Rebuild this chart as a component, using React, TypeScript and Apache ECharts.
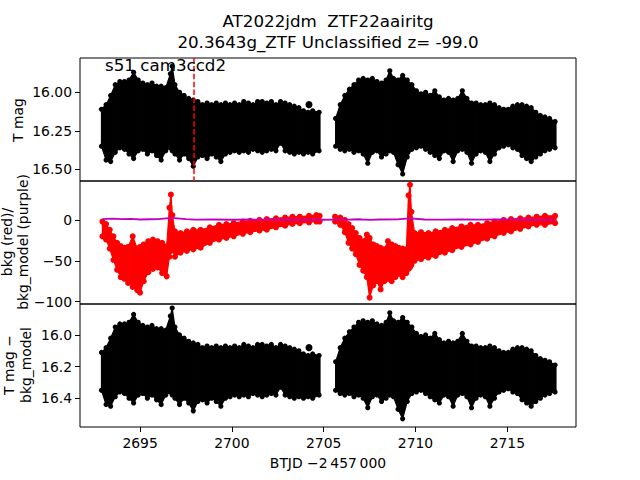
import React, { useEffect, useRef } from 'react';
import * as echarts from 'echarts';

// ---- Panel 1 / Panel 3: T mag light-curve envelope ----
const magT = [
  2692.9, 2693.15, 2693.4, 2693.65, 2693.9, 2694.15, 2694.4, 2694.65, 2694.9, 2695.15,
  2695.4, 2695.65, 2695.9, 2696.15, 2696.4, 2696.65, 2696.75, 2696.9, 2697.15, 2697.4,
  2697.65, 2697.9, 2698.15, 2698.4, 2698.65, 2698.9, 2699.15, 2699.4, 2699.65, 2699.9,
  2700.15, 2700.4, 2700.65, 2700.9, 2701.15, 2701.4, 2701.65, 2701.9, 2702.15, 2702.4,
  2702.65, 2702.9, 2703.15, 2703.4, 2703.65, 2703.9, 2704.15, 2704.4, 2704.75,
  2705.65, 2705.9, 2706.15, 2706.4, 2706.65, 2706.9, 2707.15, 2707.4, 2707.65, 2707.9,
  2708.15, 2708.4, 2708.6, 2708.8, 2709.05, 2709.3, 2709.55, 2709.8, 2710.05, 2710.3,
  2710.55, 2710.8, 2711.05, 2711.3, 2711.55, 2711.8, 2712.05, 2712.3, 2712.55, 2712.8,
  2713.05, 2713.3, 2713.55, 2713.8, 2714.05, 2714.3, 2714.55, 2714.8, 2715.05, 2715.3,
  2715.55, 2715.8, 2716.05, 2716.3, 2716.55, 2716.8, 2717.05, 2717.3, 2717.6,
];
const magHi = [
  16.11, 16.08, 16.02, 15.95, 15.93, 15.93, 15.92, 15.87, 15.92, 15.94,
  15.95, 15.94, 15.96, 15.96, 15.97, 15.88, 15.83, 15.95, 16.0, 16.02,
  16.04, 16.05, 16.06, 16.08, 16.07, 16.08, 16.07, 16.08, 16.07, 16.08,
  16.07, 16.08, 16.06, 16.07, 16.08, 16.06, 16.06, 16.07, 16.06, 16.08,
  16.06, 16.07, 16.08, 16.09, 16.1, 16.12, 16.13, 16.12, 16.13,
  16.17, 16.08, 16.02, 15.98, 15.95, 15.92, 15.91, 15.92, 15.91, 15.93,
  15.94, 15.92, 15.86, 15.91, 15.92, 15.89, 15.92, 15.95, 15.99, 16.01,
  16.0, 16.02, 15.99, 16.03, 16.05, 16.04, 16.05, 16.04, 15.99, 16.04,
  16.07, 16.07, 16.08, 16.08, 16.07, 16.08, 16.1, 16.11, 16.11, 16.09,
  16.08, 16.08, 16.09, 16.1, 16.13, 16.15, 16.16, 16.17, 16.19,
];
const magLo = [
  16.35, 16.44, 16.45, 16.39, 16.36, 16.37, 16.4, 16.43, 16.38, 16.37,
  16.4, 16.38, 16.41, 16.44, 16.38, 16.36, 16.38, 16.4, 16.44, 16.4,
  16.43, 16.48, 16.42, 16.41, 16.43, 16.4, 16.42, 16.45, 16.4, 16.39,
  16.38, 16.39, 16.38, 16.39, 16.37, 16.38, 16.39, 16.38, 16.37, 16.38,
  16.33, 16.38, 16.39, 16.4, 16.39, 16.4, 16.39, 16.4, 16.38,
  16.35, 16.37, 16.38, 16.37, 16.39, 16.38, 16.4, 16.46, 16.39, 16.38,
  16.42, 16.4, 16.38, 16.39, 16.47, 16.53, 16.42, 16.37, 16.36, 16.35,
  16.37, 16.39, 16.41, 16.43, 16.38, 16.39, 16.45, 16.38, 16.37, 16.39,
  16.46, 16.4, 16.38, 16.39, 16.45, 16.4, 16.36, 16.35, 16.34, 16.36,
  16.37, 16.41, 16.43, 16.45, 16.42, 16.4, 16.38, 16.37, 16.36,
];
const outlierT = [2704.2];
const outlierMag = [16.08];

// ---- Panel 2: background (red) envelope and bkg_model (purple) ----
const bkgT = [
  2692.95, 2693.15, 2693.35, 2693.55, 2693.75, 2693.95, 2694.15, 2694.35, 2694.6, 2694.85,
  2695.0, 2695.2, 2695.45, 2695.7, 2695.95, 2696.2, 2696.45, 2696.6, 2696.68, 2696.76,
  2696.9, 2697.2, 2697.55, 2697.9, 2698.3, 2698.8, 2699.3, 2699.7, 2700.1, 2700.6,
  2701.0, 2701.5, 2701.9, 2702.4, 2702.9, 2703.3, 2703.7, 2704.2, 2704.6, 2704.78,
  2705.62, 2705.9, 2706.15, 2706.35, 2706.55, 2706.75, 2706.95, 2707.15, 2707.35, 2707.5,
  2707.7, 2707.9, 2708.1, 2708.3, 2708.5, 2708.7, 2708.9, 2709.1, 2709.3, 2709.5,
  2709.62, 2709.7, 2709.78, 2709.95, 2710.3, 2710.7, 2711.1, 2711.6, 2712.0, 2712.5,
  2713.0, 2713.4, 2713.9, 2714.3, 2714.8, 2715.2, 2715.7, 2716.15, 2716.6, 2717.05, 2717.6,
];
const bkgHi = [
  -2, -5, -12, -20, -28, -32, -34, -33, -20, -35,
  -33, -30, -26, -24, -26, -28, -32, 15, 31, 6,
  -14, -16, -14, -12, -12, -9, -6, -5, -4, -2,
  -1, 0, 1, 2, 3, 4, 4, 5, 6, 5,
  4, 3, 0, -5, -10, -16, -22, -26, -18, -22,
  -30, -32, -34, -36, -26, -30, -32, -34, -35, -36,
  30, 43, 10, -16, -15, -16, -14, -12, -10, -8,
  -6, -6, -4, -2, 0, 1, 2, 3, 4, 5, 5,
];
const bkgLo = [
  -20, -24, -35, -49, -61, -70, -72, -77, -82, -86,
  -89, -75, -64, -60, -58, -65, -69, -45, -38, -36,
  -45, -40, -38, -36, -34, -28, -24, -22, -20, -17,
  -15, -13, -12, -9, -7, -5, -4, -3, -2, -2,
  -2, -6, -15, -28, -35, -42, -55, -62, -70, -95,
  -80, -75, -85, -75, -72, -75, -70, -66, -70, -65,
  -60, -58, -55, -50, -48, -46, -44, -40, -37, -33,
  -30, -27, -23, -20, -16, -14, -11, -8, -6, -6, -4,
];
const modelT = [
  2692.95, 2693.5, 2694, 2694.5, 2695, 2695.5, 2696, 2696.7, 2697.5, 2698,
  2699, 2700, 2701, 2702, 2703, 2704, 2704.78, 2705.62, 2706.5, 2707,
  2707.5, 2708, 2709, 2709.7, 2710.5, 2711.5, 2712.5, 2713.5, 2714.5, 2715.5,
  2716.5, 2717.6,
];
const modelVal = [
  1.0, 1.5, 1.0, 1.2, 0.5, 0.8, 1.0, 2.5, 1.0, 0.3,
  0.5, 0.2, 0.5, 0.3, 0.2, 0.0, 0.2, 0.3, 0.5, 0.8,
  0.0, 0.5, 0.6, 1.8, 0.5, 0.3, 0.6, 0.4, 0.5, 0.4,
  0.2, 0.1,
];

const markT = 2697.92;
const xTicks = [2695, 2700, 2705, 2710, 2715];
const magTicksTop = [16.0, 16.25, 16.5];
const bkgTicks = [-100, -50, 0];
const magTicksBottom = [16.0, 16.2, 16.4];

const titleLine1 = 'AT2022jdm  ZTF22aairitg';
const titleLine2 = '20.3643g_ZTF Unclassified z= -99.0';
const sectorText = 's51 cam3ccd2';

const FONT = 'DejaVu Sans';

function bandRenderer(T: number[], HI: number[], LO: number[], color: string, r: number, gap: number) {
  return (params: any, api: any) => {
    const i = params.dataIndex;
    const a = api.coord([T[i], HI[i]]);
    const b = api.coord([T[i], LO[i]]);
    const children: any[] = [];
    if (i + 1 < T.length && T[i + 1] - T[i] < gap) {
      const c = api.coord([T[i + 1], HI[i + 1]]);
      const d = api.coord([T[i + 1], LO[i + 1]]);
      children.push({
        type: 'polygon',
        shape: { points: [a, c, d, b] },
        style: { fill: color, stroke: color, lineWidth: 1.2 },
      });
    } else {
      children.push({
        type: 'line',
        shape: { x1: a[0], y1: a[1], x2: b[0], y2: b[1] },
        style: { stroke: color, lineWidth: 3 },
      });
    }
    children.push({ type: 'circle', shape: { cx: a[0], cy: a[1], r }, style: { fill: color } });
    children.push({ type: 'circle', shape: { cx: b[0], cy: b[1], r }, style: { fill: color } });
    return { type: 'group', children };
  };
}

const minus = (s: string) => s.replace('-', '\u2212');

export default function App() {
  const ref = useRef<HTMLDivElement>(null);
  useEffect(() => {
    document.body.style.margin = '0';
    if (!ref.current) return;
    const chart = echarts.init(ref.current, undefined, { renderer: 'svg' });
    const grids = [
      { left: 80, top: 58, width: 496, height: 123 },
      { left: 80, top: 181, width: 496, height: 123 },
      { left: 80, top: 304, width: 496, height: 123 },
    ].map((g) => ({ ...g, show: true, borderColor: '#000', borderWidth: 1, backgroundColor: 'transparent' }));

    const xBase = { type: 'value', min: 2691.73, max: 2718.74, splitLine: { show: false } };
    const tickStyle = { show: true, length: 5, inside: false, lineStyle: { color: '#000', width: 1 } };
    const labelStyle = { color: '#000', fontFamily: FONT, fontSize: 13.9 };

    const magData = magT.map((t, i) => [t, magHi[i], magLo[i]]);
    const bkgData = bkgT.map((t, i) => [t, bkgHi[i], bkgLo[i]]);

    const option: any = {
      animation: false,
      backgroundColor: '#fff',
      grid: grids,
      xAxis: [
        { ...xBase, gridIndex: 0, show: false },
        { ...xBase, gridIndex: 1, show: false },
        {
          ...xBase,
          gridIndex: 2,
          axisLine: { show: false },
          axisTick: { ...tickStyle, customValues: xTicks },
          axisLabel: { ...labelStyle, margin: 9, customValues: xTicks, formatter: (v: number) => String(v) },
        },
      ],
      yAxis: [
        {
          type: 'value', gridIndex: 0, inverse: true, min: 15.777, max: 16.576,
          splitLine: { show: false }, axisLine: { show: false },
          axisTick: { ...tickStyle, customValues: magTicksTop },
          axisLabel: { ...labelStyle, margin: 8, customValues: magTicksTop, formatter: (v: number) => v.toFixed(2) },
        },
        {
          type: 'value', gridIndex: 1, min: -102.8, max: 47.6,
          splitLine: { show: false }, axisLine: { show: false },
          axisTick: { ...tickStyle, customValues: bkgTicks },
          axisLabel: { ...labelStyle, margin: 8, customValues: bkgTicks, formatter: (v: number) => minus(String(v)) },
        },
        {
          type: 'value', gridIndex: 2, inverse: true, min: 15.804, max: 16.582,
          splitLine: { show: false }, axisLine: { show: false },
          axisTick: { ...tickStyle, customValues: magTicksBottom },
          axisLabel: { ...labelStyle, margin: 8, customValues: magTicksBottom, formatter: (v: number) => v.toFixed(1) },
        },
      ],
      series: [
        {
          type: 'custom', xAxisIndex: 0, yAxisIndex: 0, z: 2,
          renderItem: bandRenderer(magT, magHi, magLo, '#000', 2.6, 0.5),
          data: magData, encode: { x: 0, y: [1, 2] }, silent: true,
        },
        {
          type: 'scatter', xAxisIndex: 0, yAxisIndex: 0, z: 5, symbolSize: 7,
          itemStyle: { color: '#000', opacity: 1 }, silent: true,
          data: outlierT.map((t, i) => [t, outlierMag[i]]),
          markLine: {
            silent: true, symbol: 'none', label: { show: false }, animation: false,
            lineStyle: { color: '#ff0000', type: [5.5, 2.4], width: 1.5, opacity: 1 },
            data: [{ xAxis: markT }],
          },
        },
        {
          type: 'custom', xAxisIndex: 1, yAxisIndex: 1, z: 2,
          renderItem: bandRenderer(bkgT, bkgHi, bkgLo, '#ff0000', 3, 0.7),
          data: bkgData, encode: { x: 0, y: [1, 2] }, silent: true,
        },
        {
          type: 'line', xAxisIndex: 1, yAxisIndex: 1, z: 4, symbol: 'none', silent: true,
          lineStyle: { color: '#bf00bf', width: 1.8 },
          data: modelT.map((t, i) => [t, modelVal[i]]),
        },
        {
          type: 'custom', xAxisIndex: 2, yAxisIndex: 2, z: 2,
          renderItem: bandRenderer(magT, magHi, magLo, '#000', 2.6, 0.5),
          data: magData, encode: { x: 0, y: [1, 2] }, silent: true,
        },
        {
          type: 'scatter', xAxisIndex: 2, yAxisIndex: 2, z: 5, symbolSize: 7,
          itemStyle: { color: '#000', opacity: 1 }, silent: true,
          data: outlierT.map((t, i) => [t, outlierMag[i]]),
        },
      ],
      graphic: [
        {
          type: 'text', x: 328, y: 31, z: 10,
          style: {
            text: titleLine1 + '\n' + titleLine2, fontFamily: FONT, fontSize: 16.7, lineHeight: 21,
            fill: '#000', textAlign: 'center', textVerticalAlign: 'middle',
          },
        },
        {
          type: 'text', x: 105, y: 65, z: 10,
          style: {
            text: sectorText, fontFamily: FONT, fontSize: 16.7, fill: '#000',
            textAlign: 'left', textVerticalAlign: 'middle',
          },
        },
        {
          type: 'text', x: 18, y: 120, rotation: Math.PI / 2, z: 10,
          style: {
            text: 'T mag', fontFamily: FONT, fontSize: 13.9, fill: '#000',
            textAlign: 'center', textVerticalAlign: 'middle',
          },
        },
        {
          type: 'text', x: 15, y: 242, rotation: Math.PI / 2, z: 10,
          style: {
            text: 'bkg (red)/\nbkg_model (purple)', fontFamily: FONT, fontSize: 13.9, lineHeight: 16,
            fill: '#000', textAlign: 'center', textVerticalAlign: 'middle',
          },
        },
        {
          type: 'text', x: 17, y: 365, rotation: Math.PI / 2, z: 10,
          style: {
            text: 'T mag \u2212\nbkg_model', fontFamily: FONT, fontSize: 13.9, lineHeight: 17,
            fill: '#000', textAlign: 'center', textVerticalAlign: 'middle',
          },
        },
        {
          type: 'text', x: 328, y: 463, z: 10,
          style: {
            text: 'BTJD \u22122\u2009457\u2009000', fontFamily: FONT, fontSize: 13.9, fill: '#000',
            textAlign: 'center', textVerticalAlign: 'middle',
          },
        },
      ],
    };
    chart.setOption(option);
    return () => chart.dispose();
  }, []);
  return <div ref={ref} style={{ width: 640, height: 480 }} />;
}
